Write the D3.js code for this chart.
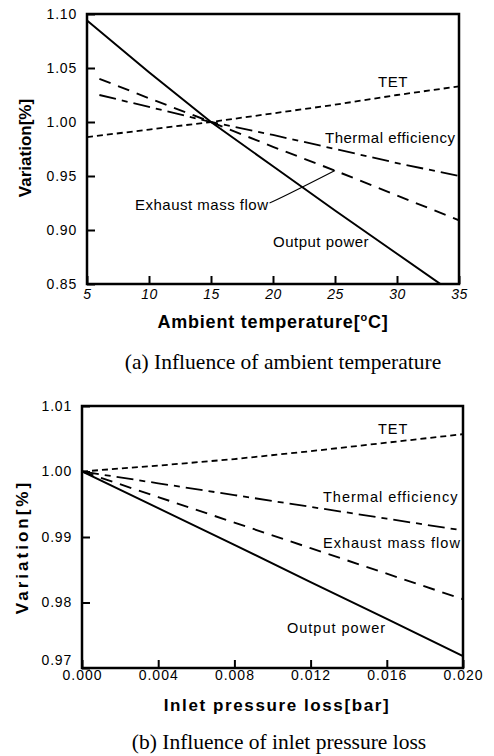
<!DOCTYPE html>
<html>
<head>
<meta charset="utf-8">
<script src="https://cdn.jsdelivr.net/npm/d3@7"></script>
<style>
  body { margin: 0; background: #fff; }
  text { fill: #000; }
</style>
</head>
<body>
<script>
// ---------------- DATA (a) ambient temperature ----------------
var tempTicks = [5, 10, 15, 20, 25, 30, 35]
var varTicksA = [0.85, 0.90, 0.95, 1.00, 1.05, 1.10]

var powerA    = [[5, 1.094], [10, 1.046], [15, 1.000], [20, 0.959], [25, 0.918], [30, 0.878], [35, 0.838]]
var tetA      = [[5, 0.986], [10, 0.993], [15, 1.000], [20, 1.008], [25, 1.016], [30, 1.025], [35, 1.033]]
var thermalA  = [[6, 1.025], [10, 1.014], [15, 1.000], [20, 0.988], [25, 0.975], [30, 0.962], [35, 0.950]]
var exhaustA  = [[6, 1.040], [10, 1.022], [15, 1.000], [20, 0.977], [25, 0.955], [30, 0.932], [35, 0.909]]

// ---------------- DATA (b) inlet pressure loss ----------------
var lossTicks = [0.000, 0.004, 0.008, 0.012, 0.016, 0.020]
var varTicksB = [0.97, 0.98, 0.99, 1.00, 1.01]

var powerB    = [[0, 1.000], [0.004, 0.9944], [0.008, 0.9888], [0.012, 0.9831], [0.016, 0.9775], [0.020, 0.9718]]
var tetB      = [[0, 1.000], [0.004, 1.0009], [0.008, 1.0019], [0.012, 1.0031], [0.016, 1.0044], [0.020, 1.0057]]
var thermalB  = [[0, 1.000], [0.004, 0.9982], [0.008, 0.9964], [0.012, 0.9946], [0.016, 0.9928], [0.020, 0.9910]]
var exhaustB  = [[0, 1.000], [0.004, 0.9961], [0.008, 0.9922], [0.012, 0.9883], [0.016, 0.9844], [0.020, 0.9805]]

var styles = {
  power:   { dash: null,          width: 2 },
  tet:     { dash: '6,4',         width: 1.8 },
  thermal: { dash: '17,6,6,6',    width: 1.8 },
  exhaust: { dash: '12,8',        width: 1.9 }
}

var W = 494, H = 756
var svg = d3.select('body').append('svg')
  .attr('width', W).attr('height', H)

var sans = '"Liberation Sans", Arial, sans-serif'
var serif = '"Liberation Serif", "Times New Roman", serif'

function panel(o) {
  var x = d3.scaleLinear().domain(o.xDomain).range([o.left, o.right])
  var y = d3.scaleLinear().domain(o.yDomain).range([o.bottom, o.top])
  var g = svg.append('g')

  g.append('clipPath').attr('id', o.id)
    .append('rect')
    .attr('x', o.left).attr('y', o.top)
    .attr('width', o.right - o.left).attr('height', o.bottom - o.top)

  var line = d3.line().x(function(d) { return x(d[0]) }).y(function(d) { return y(d[1]) })

  var lines = g.append('g').attr('clip-path', 'url(#' + o.id + ')')
  o.series.forEach(function(s) {
    lines.append('path')
      .datum(s.data)
      .attr('d', line)
      .attr('fill', 'none')
      .attr('stroke', '#000')
      .attr('stroke-width', styles[s.key].width)
      .attr('stroke-dasharray', styles[s.key].dash)
  })

  // y axis, ticks pointing inward
  var ya = g.append('g')
    .attr('transform', 'translate(' + o.left + ',0)')
    .call(d3.axisLeft(y).tickValues(o.yTicks).tickFormat(d3.format('.2f'))
      .tickSizeInner(-8).tickSizeOuter(0).tickPadding(10))
  ya.select('.domain').remove()
  ya.selectAll('line').attr('stroke', '#000').attr('stroke-width', 2)
  ya.selectAll('text')
    .attr('font-family', sans).attr('font-size', 14).attr('letter-spacing', 0.8)
  if (o.lowShift) {
    ya.selectAll('text').filter(function(d) { return d === o.yTicks[0] })
      .attr('dy', '-0.25em')
  }

  // x axis
  var xa = g.append('g')
    .attr('transform', 'translate(0,' + o.bottom + ')')
    .call(d3.axisBottom(x).tickValues(o.xTicks).tickFormat(o.xFormat)
      .tickSizeInner(-8).tickSizeOuter(0).tickPadding(o.xPad))
  xa.select('.domain').remove()
  xa.selectAll('line').attr('stroke', '#000').attr('stroke-width', 2)
  xa.selectAll('text')
    .attr('font-family', sans).attr('font-size', 14)
    .attr('font-style', o.xItalic ? 'italic' : 'normal')
    .attr('letter-spacing', o.lsp)

  // frame
  g.append('rect')
    .attr('x', o.left).attr('y', o.top)
    .attr('width', o.right - o.left).attr('height', o.bottom - o.top)
    .attr('fill', 'none').attr('stroke', '#000').attr('stroke-width', 2.5)

  // inline labels
  var labelEls = {}
  o.labels.forEach(function(l) {
    labelEls[l.text] = g.append('text')
      .attr('x', l.x).attr('y', l.y)
      .attr('font-family', sans).attr('font-size', o.labelSize)
      .attr('letter-spacing', o.lsp)
      .text(l.text)
  })

  // axis titles
  var xt = g.append('text')
    .attr('x', o.xTitleX).attr('y', o.bottom + o.xTitleOff)
    .attr('text-anchor', 'middle')
    .attr('font-family', sans).attr('font-size', o.xTitleSize).attr('font-weight', 'bold')
    .attr('letter-spacing', o.titleLsp)
  o.xTitle(xt)

  g.append('text')
    .attr('transform', 'translate(' + o.yTitleX + ',' + o.yTitleY + ') rotate(-90)')
    .attr('text-anchor', 'middle')
    .attr('font-family', sans).attr('font-size', 17).attr('font-weight', 'bold')
    .attr('letter-spacing', o.yTitleLsp)
    .text('Variation[%]')

  g.append('text')
    .attr('x', o.capX).attr('y', o.capY)
    .attr('text-anchor', 'middle')
    .attr('font-family', serif).attr('font-size', 21.5)
    .text(o.caption)

  return { x: x, y: y, g: g, labels: labelEls }
}

// ---------------- panel (a) ----------------
var pa = panel({
  id: 'clipA', left: 87, right: 459, top: 14, bottom: 284,
  xDomain: [5, 35], yDomain: [0.85, 1.10],
  xTicks: tempTicks, yTicks: varTicksA,
  xFormat: d3.format('d'), xItalic: true, xPad: 5, lsp: 0.5,
  series: [
    { key: 'power', data: powerA },
    { key: 'tet', data: tetA },
    { key: 'thermal', data: thermalA },
    { key: 'exhaust', data: exhaustA }
  ],
  labelSize: 15,
  labels: [
    { text: 'TET', x: 378, y: 87 },
    { text: 'Thermal efficiency', x: 325, y: 143 },
    { text: 'Exhaust mass flow', x: 135, y: 210 },
    { text: 'Output power', x: 273, y: 247 }
  ],
  xTitleX: 273, xTitleOff: 44, xTitleSize: 18, titleLsp: 0.8,
  xTitle: function(t) {
    t.append('tspan').text('Ambient temperature[')
    t.append('tspan').attr('dy', -7).attr('font-size', 11).text('o')
    t.append('tspan').attr('dy', 7).text('C]')
  },
  yTitleX: 31, yTitleY: 148, yTitleLsp: 0,
  caption: '(a) Influence of ambient temperature', capX: 283, capY: 369
})

// leader line from "Exhaust mass flow" to its curve
var leaderPt = exhaustA[4]
var lbl = pa.labels['Exhaust mass flow'].node().getBBox()
var lx = lbl.x + lbl.width + 1, ly = 203
pa.g.append('path')
  .attr('d', 'M' + lx + ',' + ly + ' Q' + (lx + 8) + ',' + (ly - 3) + ' ' + pa.x(leaderPt[0]) + ',' + pa.y(leaderPt[1]))
  .attr('fill', 'none').attr('stroke', '#000').attr('stroke-width', 1.1)

// ---------------- panel (b) ----------------
var pb = panel({
  id: 'clipB', left: 82, right: 463, top: 406, bottom: 668,
  xDomain: [0, 0.020], yDomain: [0.97, 1.01],
  xTicks: lossTicks, yTicks: varTicksB,
  xFormat: d3.format('.3f'), xItalic: false, xPad: 2, lsp: 1, lowShift: true,
  series: [
    { key: 'power', data: powerB },
    { key: 'tet', data: tetB },
    { key: 'thermal', data: thermalB },
    { key: 'exhaust', data: exhaustB }
  ],
  labelSize: 14.5,
  labels: [
    { text: 'TET', x: 378, y: 434 },
    { text: 'Thermal efficiency', x: 323, y: 502 },
    { text: 'Exhaust mass flow', x: 323, y: 548 },
    { text: 'Output power', x: 287, y: 633 }
  ],
  xTitleX: 277, xTitleOff: 43, xTitleSize: 17, titleLsp: 1.6,
  xTitle: function(t) { t.text('Inlet pressure loss[bar]') },
  yTitleX: 28, yTitleY: 547, yTitleLsp: 3,
  caption: '(b) Influence of inlet pressure loss', capX: 279, capY: 749
})
</script>
</body>
</html>
